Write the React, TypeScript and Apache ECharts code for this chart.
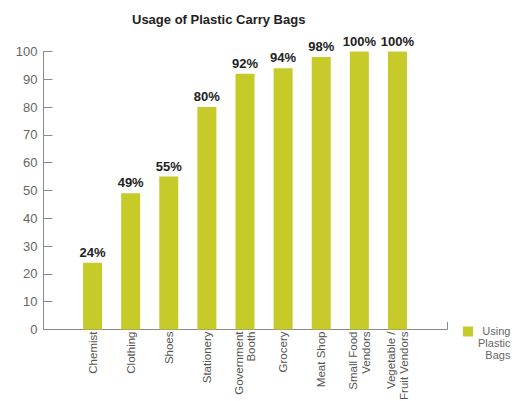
import React, { useEffect, useRef } from "react";
import * as echarts from "echarts";

const categories = [
  "Chemist",
  "Clothing",
  "Shoes",
  "Stationery",
  "Government\nBooth",
  "Grocery",
  "Meat Shop",
  "Small Food\nVendors",
  "Vegetable /\nFruit Vendors",
];
const values = [24, 49, 55, 80, 92, 94, 98, 100, 100];
const seriesName = "Using Plastic Bags";
const legendLines = ["Using", "Plastic", "Bags"];
const titleText = "Usage of Plastic Carry Bags";

const FONT = "'Liberation Sans', Arial, Helvetica, sans-serif";
const BAR = "#c6cb2a";
const AXIS = "#8a8a8a";

export default function App() {
  const ref = useRef<HTMLDivElement>(null);
  useEffect(() => {
    if (!ref.current) return;
    const chart = echarts.init(ref.current, null, { renderer: "svg" });
    chart.setOption({
      animation: false,
      backgroundColor: "#ffffff",
      textStyle: { fontFamily: FONT },
      title: {
        text: titleText,
        left: 127,
        top: 8,
        textStyle: { fontSize: 13, fontWeight: "bold", color: "#222", fontFamily: FONT },
      },
      grid: {
        left: 73.5,
        right: 99.5,
        top: 51.5,
        bottom: 71.5,
        containLabel: false,
        outerBoundsMode: "none",
      },
      legend: {
        data: [seriesName],
        left: 463,
        top: 302,
        padding: 0,
        icon: "rect",
        itemWidth: 10,
        itemHeight: 10,
        itemGap: 6,
        formatter: () => legendLines.map((l) => `{r|${l}}`).join("\n"),
        textStyle: {
          color: "#666",
          fontSize: 11,
          lineHeight: 12,
          padding: [23, 0, 0, 0],
          fontFamily: FONT,
          rich: {
            r: { align: "right", color: "#666", fontSize: 11, lineHeight: 12, fontFamily: FONT },
          },
        },
      },
      xAxis: {
        type: "category",
        data: categories,
        axisLine: { show: false },
        axisTick: { show: false },
        axisLabel: {
          rotate: 90,
          margin: 2,
          color: "#555",
          fontSize: 11.5,
          lineHeight: 12.5,
          interval: 0,
          fontFamily: FONT,
        },
      },
      yAxis: {
        type: "value",
        min: 0,
        max: 100,
        interval: 10,
        offset: 30,
        splitLine: { show: false },
        axisLine: { show: true, lineStyle: { color: AXIS, width: 1 } },
        axisTick: { show: true, inside: true, length: 9, lineStyle: { color: AXIS } },
        axisLabel: { color: "#666", fontSize: 13, margin: 6, fontFamily: FONT },
      },
      series: [
        {
          name: seriesName,
          type: "bar",
          data: values,
          barWidth: 19,
          itemStyle: { color: BAR },
          label: {
            show: true,
            position: "top",
            distance: 4,
            formatter: "{c}%",
            color: "#222",
            fontWeight: "bold",
            fontSize: 13,
            fontFamily: FONT,
          },
        },
      ],
      graphic: [
        {
          type: "line",
          shape: { x1: 43.5, y1: 329.5, x2: 447.5, y2: 329.5 },
          style: { stroke: AXIS, lineWidth: 1 },
        },
        {
          type: "line",
          shape: { x1: 447.5, y1: 322, x2: 447.5, y2: 329.5 },
          style: { stroke: AXIS, lineWidth: 1 },
        },
      ],
    });
    return () => chart.dispose();
  }, []);
  return (
    <div
      ref={ref}
      style={{ position: "absolute", left: 0, top: 0, width: 516, height: 401 }}
    />
  );
}
